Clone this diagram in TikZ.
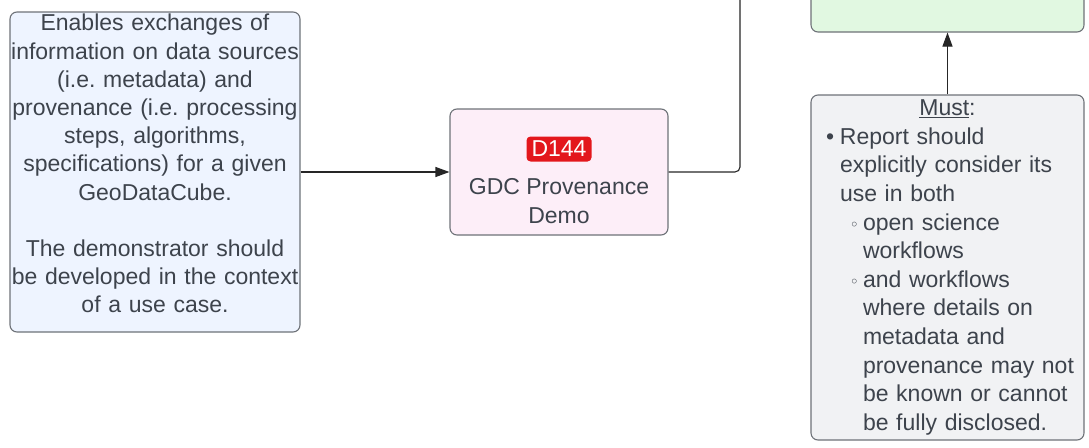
\documentclass[tikz,border=0pt]{standalone}
\usepackage{fontspec}
\setmainfont{Liberation Sans}
\newfontfamily\symfont{DejaVu Sans}
\usepackage{tikz}
\usetikzlibrary{arrows.meta,positioning}
\definecolor{inkgrey}{HTML}{3D434C}
\definecolor{edgegrey}{HTML}{6E7278}
\definecolor{reqblue}{HTML}{EEF4FF}
\definecolor{demopink}{HTML}{FDEEF8}
\definecolor{goalgreen}{HTML}{E1F8E1}
\definecolor{mustgrey}{HTML}{F1F2F4}
\definecolor{badgered}{HTML}{E3171C}
\newcommand{\bul}{\hspace*{7.5pt}\makebox[14pt][l]{\textbullet}}
\newcommand{\subbul}{\hspace*{31pt}\makebox[13.5pt][l]{{\symfont\fontsize{16}{16}\selectfont ◦}}}
\frenchspacing

\begin{document}
\begin{tikzpicture}[x=1pt,y=-1pt,on grid,
  box/.style={draw=edgegrey,line width=1.1pt,rounded corners=7pt,text=inkgrey,
    font=\fontsize{23}{28.2}\selectfont,inner sep=0pt},
  boxtext/.style={text=inkgrey,font=\fontsize{23}{28.2}\selectfont,align=center},
  badge/.style={fill=badgered,rounded corners=4pt,text=white,minimum width=65pt,
    minimum height=25pt,inner sep=0pt,font=\fontsize{23}{23}\selectfont},
  link/.style={draw=black!85,line width=1.1pt},
  tip/.style={-{Triangle[length=14pt,width=10pt]}}]
  \useasboundingbox (0,0) rectangle (1089,447);

  \node[box,fill=reqblue,minimum width=290pt,minimum height=320pt,
    text width=289pt,align=center] (req) at (155,172)
    {Enables exchanges of\\information on data sources\\(i.e. metadata) and\\
     provenance (i.e. processing\\steps, algorithms,\\specifications) for a given\\
     GeoDataCube.\\[28.2pt]The demonstrator should\\be developed in the context\\
     of a use case.\rule[-17pt]{0pt}{17pt}};
  \node[box,fill=demopink,minimum width=218pt,minimum height=126pt] (demo) [right=404pt of req] {};
  \node[badge] (id) [above=23pt of demo] {D144};
  \node[boxtext] (title) [below=52pt of id] {GDC Provenance\\Demo};

  \node[box,fill=mustgrey,minimum width=273pt,minimum height=345pt,
    text width=258pt,align=left,font=\fontsize{23}{28.6}\selectfont] (must) at (947.5,267.5)
    {\hfill\underline{Must}:\hfill\null\\
     \bul Report should\\
     \hspace*{21.5pt}explicitly consider its\\
     \hspace*{21.5pt}use in both\\
     \subbul open science\\
     \hspace*{44.5pt}workflows\\
     \subbul and workflows\\
     \hspace*{44.5pt}where details on\\
     \hspace*{44.5pt}metadata and\\
     \hspace*{44.5pt}provenance may not\\
     \hspace*{44.5pt}be known or cannot\\
     \hspace*{44.5pt}be fully disclosed.};
  \node[box,fill=goalgreen,minimum width=273pt,minimum height=52pt] (goal) [above=261.5pt of must] {};

  \coordinate (exit) at (740,-2);
  \draw[link,tip] (req.east) -- (demo.west);
  \draw[link,rounded corners=5pt] (demo.east) -| (exit);
  \draw[link,tip] (must.north) -- (goal.south);
\end{tikzpicture}
\end{document}
